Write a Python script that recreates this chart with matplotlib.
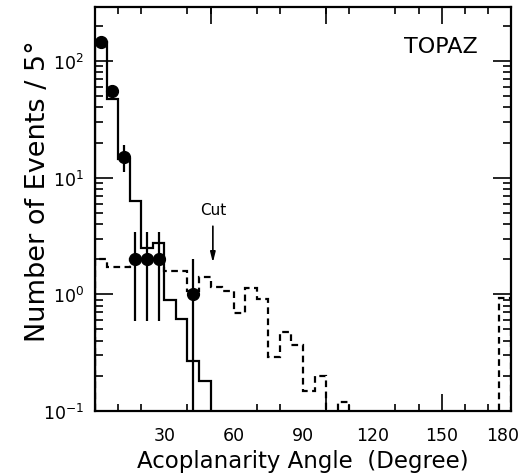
import numpy as np
import matplotlib
matplotlib.use("Agg")
import matplotlib.pyplot as plt
import matplotlib.transforms as mtransforms
from matplotlib.ticker import LogLocator, MultipleLocator, FixedLocator, NullFormatter

plt.rcParams['font.family'] = ['DejaVu Sans']
plt.rcParams['mathtext.fontset'] = 'dejavusans'

# ---- data ----
bin_edges = np.arange(0, 185, 5)
mc_edges = np.arange(0, 55, 5)
mc_values = [145, 47, 14.5, 6.35, 2.47, 2.78, 0.89, 0.62, 0.267, 0.18]

bg_values = [2.0, 1.73, 1.73, 2.0, 2.0, 2.0, 1.57, 1.57, 1.07, 1.40,
             1.15, 1.06, 0.69, 1.13, 0.92, 0.29, 0.48, 0.37, 0.148, 0.20,
             0, 0.12, 0, 0, 0, 0, 0, 0, 0, 0,
             0, 0, 0, 0, 0, 0.93]

data_x = [2.5, 7.5, 12.5, 17.5, 22.5, 27.5, 42.5]
data_y = [145, 55, 15, 2, 2, 2, 1]
data_err = [12, 7.4, 3.9, 1.41, 1.41, 1.41, 1.0]

xtick_vals = [30, 60, 90, 120, 150, 180]
xtick_labels = ['30', '60', '90', '120', '150', '180']
long_xticks = [50, 100, 150]

# ---- figure ----
fig = plt.figure(figsize=(5.28, 4.77), dpi=100)
ax = fig.add_axes([95/528, 1-412/477, 416/528, 404/477])

ax.stairs(mc_values, mc_edges, baseline=1e-3, color='black', lw=1.6)
ax.stairs(bg_values, bin_edges, baseline=1e-3, color='black', lw=1.6,
          linestyle=(0, (3, 2)))

lower = [min(e, v * 0.999) for v, e in zip(data_y, data_err)]
ax.errorbar(data_x, data_y, yerr=[lower, data_err], fmt='o', color='black',
            ms=8.5, elinewidth=1.6, capsize=0)

ax.set_yscale('log')
ax.set_xlim(0, 180)
ax.set_ylim(0.1, 290)

# x ticks: labels only at 30..180, short minor every 10, long at 50/100/150
ax.xaxis.set_major_locator(FixedLocator(xtick_vals))
ax.set_xticklabels(xtick_labels)
ax.xaxis.set_minor_locator(MultipleLocator(10))
ax.tick_params(axis='x', which='major', length=0, pad=11, labelsize=12.5)
ax.tick_params(axis='x', which='minor', direction='in', length=5, width=1.2,
               top=True, bottom=True)
for sec_loc in ['bottom', 'top']:
    sec = ax.secondary_xaxis(sec_loc)
    sec.set_xticks(long_xticks)
    sec.tick_params(direction='in', length=12, width=1.2, labelbottom=False,
                    labeltop=False)
    sec.spines[sec_loc].set_visible(False)
    sec.xaxis.set_minor_locator(FixedLocator([]))

# nudge the last x label inward like the reference
last = ax.get_xticklabels()[-1]
last.set_transform(last.get_transform() +
                   mtransforms.ScaledTranslation(-8/100, 0, fig.dpi_scale_trans))

ax.yaxis.set_major_locator(LogLocator(base=10, numticks=10))
ax.yaxis.set_minor_locator(LogLocator(base=10, subs=np.arange(2, 10), numticks=20))
ax.yaxis.set_minor_formatter(NullFormatter())
ax.tick_params(axis='y', which='major', direction='in', length=13, width=1.2,
               left=True, right=True, labelsize=12.5, pad=8)
ax.tick_params(axis='y', which='minor', direction='in', length=6, width=1.2,
               left=True, right=True)

for sp in ax.spines.values():
    sp.set_linewidth(1.6)

ax.set_xlabel('Acoplanarity Angle  (Degree)', fontsize=16.5, va='center')
ax.xaxis.set_label_coords(0.5, -(462-412)/404)
ax.set_ylabel('Number of Events / 5°', fontsize=19.5, va='center')
ax.yaxis.set_label_coords((38-95)/416, (412-191)/404)

ax.text((441-95)/416, 1-(47-8)/404, 'TOPAZ', transform=ax.transAxes,
        fontsize=16, ha='center', va='center')

ax.annotate('', xy=(51, 1.77), xytext=(51, 4.05),
            arrowprops=dict(arrowstyle='-|>,head_length=0.6,head_width=0.15',
                            color='black', lw=1.2))
ax.text(51, 5.3, 'Cut', fontsize=11, ha='center', va='center')

fig.savefig('out.png', dpi=100)
